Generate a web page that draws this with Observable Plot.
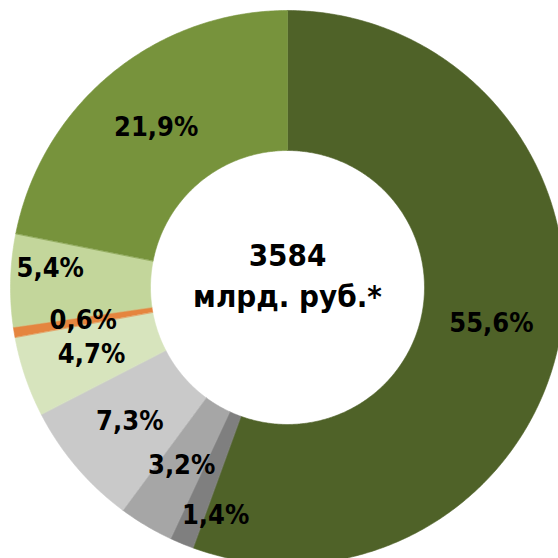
<!DOCTYPE html>
<html><head><meta charset="utf-8">
<script src="https://cdn.jsdelivr.net/npm/d3@7"></script>
<script src="https://cdn.jsdelivr.net/npm/@observablehq/plot@0.6"></script>
<style>html,body{margin:0;padding:0;background:#fff;overflow:hidden} svg{display:block;overflow:hidden}</style>
</head><body><div id="chart"></div>
<script>
// ---- data ----
const categories = ["Сегмент 1", "Сегмент 2", "Сегмент 3", "Сегмент 4", "Сегмент 5", "Сегмент 6", "Сегмент 7", "Сегмент 8"];
const shares = [55.6, 1.4, 3.2, 7.3, 4.7, 0.6, 5.4, 21.9];
const labels = ["55,6%", "1,4%", "3,2%", "7,3%", "4,7%", "0,6%", "5,4%", "21,9%"];
const colors = ["#4F6228", "#7F7F7F", "#A6A6A6", "#C9C9C9", "#D7E4BD", "#E5853F", "#C3D69B", "#77933C"];
const centerText = "3584\nмлрд. руб.*";

// ---- layout ----
const W = 558, H = 558, cx = 287, cy = 287, R = 277, r = 137;
const labelPlacement = {"5,4%": {angle: 274.6, radius: 238}, "1,4%": {angle: 197.5, radius: 239}};

const total = d3.sum(shares);
const rad = a => a * Math.PI / 180;
const pt = (a, rr) => [rr * Math.sin(rad(a)), rr * Math.cos(rad(a))];

let acc = 0;
const slices = categories.map((c, i) => {
  const a0 = acc / total * 360; acc += shares[i];
  const a1 = acc / total * 360;
  return {category: c, label: labels[i], a0, a1};
});

const poly = [];
for (const s of slices) {
  const n = Math.max(2, Math.ceil((s.a1 - s.a0) / 0.5));
  for (let k = 0; k <= n; k++) { const a = s.a0 + (s.a1 - s.a0) * k / n; const [x, y] = pt(a, R); poly.push({category: s.category, x, y}); }
  for (let k = n; k >= 0; k--) { const a = s.a0 + (s.a1 - s.a0) * k / n; const [x, y] = pt(a, r); poly.push({category: s.category, x, y}); }
}

const labelData = slices.map(s => {
  const p = labelPlacement[s.label] || {angle: (s.a0 + s.a1) / 2, radius: (R + r) / 2};
  const [x, y] = pt(p.angle, p.radius);
  return {label: s.label, x, y};
});

const font = "'DejaVu Sans Condensed', 'DejaVu Sans', sans-serif";
const chart = Plot.plot({
  width: W, height: H, margin: 0,
  x: {domain: [-cx, W - cx], axis: null},
  y: {domain: [-(H - cy), cy], axis: null},
  color: {domain: categories, range: colors},
  style: {background: "#fff"},
  marks: [
    Plot.line(poly, {x: "x", y: "y", z: "category", fill: "category", stroke: "category", strokeWidth: 0.6, curve: "linear-closed"}),
    Plot.text(labelData, {x: "x", y: "y", text: "label", fill: "#000", fontSize: 27, fontWeight: "bold", fontFamily: font}),
    Plot.text([{x: 0, y: 14}], {x: "x", y: "y", text: () => centerText, fill: "#000", fontSize: 31, fontWeight: "bold", fontFamily: font, lineHeight: 1.3})
  ]
});
document.getElementById("chart").append(chart);
</script>
</body></html>
